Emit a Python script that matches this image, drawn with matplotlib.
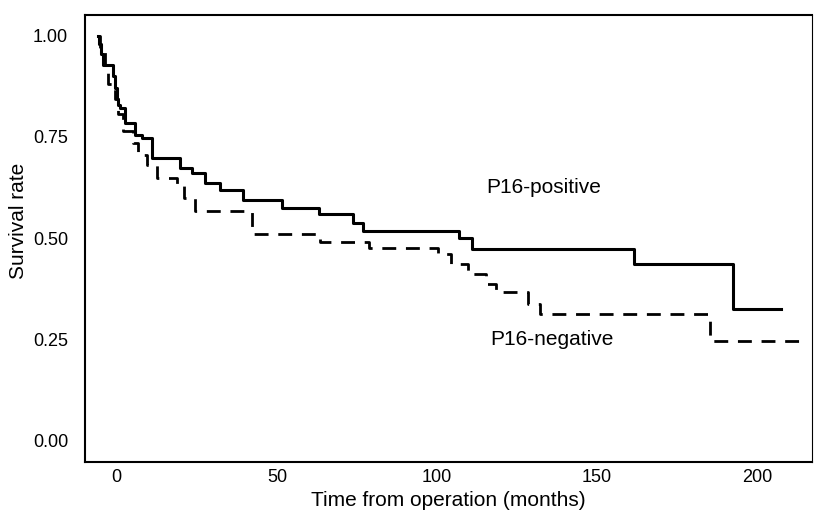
import matplotlib.pyplot as plt

plt.rcParams['font.family'] = ['Liberation Sans', 'DejaVu Sans']

# Kaplan-Meier steps: time (months) where the step happens, survival after it
pos_time = [-6, -5.5, -5, -4.4, -1.3, -0.6, 0.0, 0.5, 0.9, 2.5, 5.6, 7.8, 11, 19.7, 23.5,
            27.6, 32.3, 39.5, 51.7, 63, 73.7, 76.8, 107, 111, 161.5, 192.5, 207.5]
pos_surv = [1.0, 0.98, 0.955, 0.928, 0.90, 0.87, 0.845, 0.83, 0.822, 0.785, 0.755, 0.748, 0.698,
            0.673, 0.661, 0.636, 0.619, 0.594, 0.574, 0.559, 0.537, 0.517, 0.50, 0.473, 0.436,
            0.324, 0.324]

neg_time = [-6, -5.2, -3.8, -2.8, -0.6, 0.3, 1.9, 5, 6.6, 9.4, 12.5, 18.8, 21, 24.5, 42.3,
            63.6, 78.7, 100.3, 104.4, 109.7, 115.4, 118.5, 128.5, 132, 185.3, 213]
neg_surv = [1.0, 0.96, 0.92, 0.88, 0.844, 0.806, 0.764, 0.736, 0.706, 0.68, 0.648, 0.633, 0.60,
            0.568, 0.51, 0.49, 0.475, 0.46, 0.436, 0.41, 0.387, 0.367, 0.337, 0.312, 0.246, 0.246]

xticks = [0, 50, 100, 150, 200]
yticks = [0.0, 0.25, 0.5, 0.75, 1.0]

fig = plt.figure(figsize=(8.15, 5.15), dpi=100)
ax = fig.add_axes([0.104, 0.103, 0.892, 0.868])

ax.step(pos_time, pos_surv, where='post', color='black', linewidth=2.2)
ax.step(neg_time, neg_surv, where='post', color='black', linewidth=2.0,
        linestyle=(0, (5, 3.5)))

# curve labels
ax.text(115.5, 0.624, 'P16-positive', fontsize=15, ha='left', va='center')
ax.text(116.5, 0.25, 'P16-negative', fontsize=15, ha='left', va='center')

ax.set_xlim(-10, 217)
ax.set_ylim(-0.054, 1.052)
ax.set_xticks(xticks)
ax.set_xticklabels([str(t) for t in xticks])
ax.set_yticks(yticks)
ax.set_yticklabels([f'{t:.2f}' for t in yticks])
ax.tick_params(axis='both', length=0, labelsize=13)
ax.tick_params(axis='x', pad=5)
ax.tick_params(axis='y', pad=12)

ax.set_xlabel('Time from operation (months)', fontsize=15, labelpad=4)
ax.set_ylabel('Survival rate', fontsize=15)
ax.yaxis.set_label_coords(-0.078, 0.54)

for side in ['left', 'bottom', 'top']:
    ax.spines[side].set_linewidth(1.5)
ax.spines['right'].set_linewidth(0.8)

fig.savefig('out.png', dpi=100)
